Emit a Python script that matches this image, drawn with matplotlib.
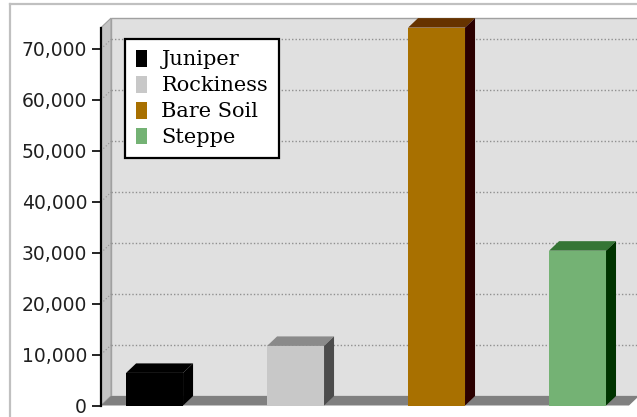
import matplotlib
matplotlib.use('Agg')
import matplotlib.pyplot as plt
from matplotlib.patches import Polygon, Rectangle, Patch
from matplotlib.lines import Line2D
from matplotlib.ticker import FuncFormatter

# данные с картинки
categories = ['Juniper', 'Rockiness', 'Bare Soil', 'Steppe']
values = [6400, 11700, 74200, 30400]
front_colors = ['#000000', '#c8c8c8', '#a87000', '#74b274']
top_colors = ['#000000', '#8a8a8a', '#663300', '#357535']
side_colors = ['#000000', '#4c4c4c', '#2b0000', '#003300']
yticks = [0, 10000, 20000, 30000, 40000, 50000, 60000, 70000]

W, H = 637, 417
fig = plt.figure(figsize=(W / 100, H / 100), dpi=100)
fig.patch.set_facecolor('white')

ax = fig.add_axes([101 / W, (H - 405.5) / H, (629 - 101) / W, (405.5 - 27.6) / H])
ax.set_xlim(-0.38, 3.365)
ax.set_ylim(0, 74200)
ax.patch.set_visible(False)

# глубина "3D" в пикселях -> в единицы данных
depth = 10
ox, oy = ax.transData.transform((0, 0))
ddx, ddy = ax.transData.inverted().transform((ox + depth, oy + depth * 0.95))
x0, x1 = ax.get_xlim()
y0, y1 = ax.get_ylim()

# задняя стенка, левая стенка, пол
ax.add_patch(Rectangle((x0 + ddx, ddy), (x1 - x0) + ddx, y1, facecolor='#e0e0e0',
                       edgecolor='#a0a0a0', lw=1, zorder=0, clip_on=False))
ax.add_patch(Polygon([(x0, 0), (x0, y1), (x0 + ddx, y1 + ddy), (x0 + ddx, ddy)],
                     closed=True, facecolor='#c4c4c4', edgecolor='#a0a0a0', lw=0.8,
                     zorder=1, clip_on=False))
for v in yticks[1:]:
    ax.plot([x0 + ddx, x1 + 2 * ddx], [v + ddy, v + ddy], color='#909090', lw=1,
            linestyle=(0, (1, 1.5)), zorder=1.5, clip_on=False)
    ax.plot([x0, x0 + ddx], [v, v + ddy], color='#909090', lw=0.8,
            linestyle=(0, (1, 2)), zorder=1.5, clip_on=False)
ax.add_patch(Polygon([(x0, 0), (x1, 0), (x1 + ddx, ddy), (x0 + ddx, ddy)],
                     closed=True, facecolor='#808080', edgecolor='none',
                     zorder=2, clip_on=False))

# столбцы
bw = 0.404
for i, v in enumerate(values):
    left, right = i - bw / 2, i + bw / 2
    ax.bar(i, v, width=bw, color=front_colors[i], edgecolor='none', zorder=3, clip_on=False)
    ax.add_patch(Polygon([(left, v), (right, v), (right + ddx, v + ddy), (left + ddx, v + ddy)],
                         closed=True, facecolor=top_colors[i], edgecolor='none',
                         zorder=3, clip_on=False))
    ax.add_patch(Polygon([(right, 0), (right, v), (right + ddx, v + ddy), (right + ddx, ddy)],
                         closed=True, facecolor=side_colors[i], edgecolor='none',
                         zorder=3, clip_on=False))

# оси
for s in ['top', 'right', 'bottom']:
    ax.spines[s].set_visible(False)
ax.spines['left'].set_linewidth(1.6)
ax.spines['left'].set_zorder(5)
ax.set_xticks([])
ax.set_yticks(yticks)
ax.yaxis.set_major_formatter(FuncFormatter(lambda v, p: f'{int(v):,}'))
ax.tick_params(axis='y', direction='out', length=6.5, width=1.2, pad=3.5,
               labelsize=13.5, labelcolor='#202020')
for lab in ax.get_yticklabels():
    lab.set_fontfamily('DejaVu Sans')

# легенда
handles = [Patch(facecolor=c, edgecolor='none') for c in front_colors]
leg = ax.legend(handles, categories, loc='upper left',
                bbox_to_anchor=(125 / W, (H - 39) / H), bbox_transform=fig.transFigure,
                borderaxespad=0, frameon=True, fancybox=False, framealpha=1,
                prop={'family': 'DejaVu Serif', 'size': 15},
                handlelength=0.55, handleheight=0.87, handletextpad=0.68,
                labelspacing=0.3, borderpad=0.52)
leg.get_frame().set_edgecolor('black')
leg.get_frame().set_linewidth(1.6)
leg.get_frame().set_facecolor('white')
leg.set_zorder(10)

# рамка вокруг
fig.add_artist(Line2D([10 / W, 10 / W], [0, (H - 4) / H], color='#c0c0c0', lw=1.6))
fig.add_artist(Line2D([10 / W, 1], [(H - 4) / H, (H - 4) / H], color='#c0c0c0', lw=1.6))

fig.savefig('out.png', dpi=100)
